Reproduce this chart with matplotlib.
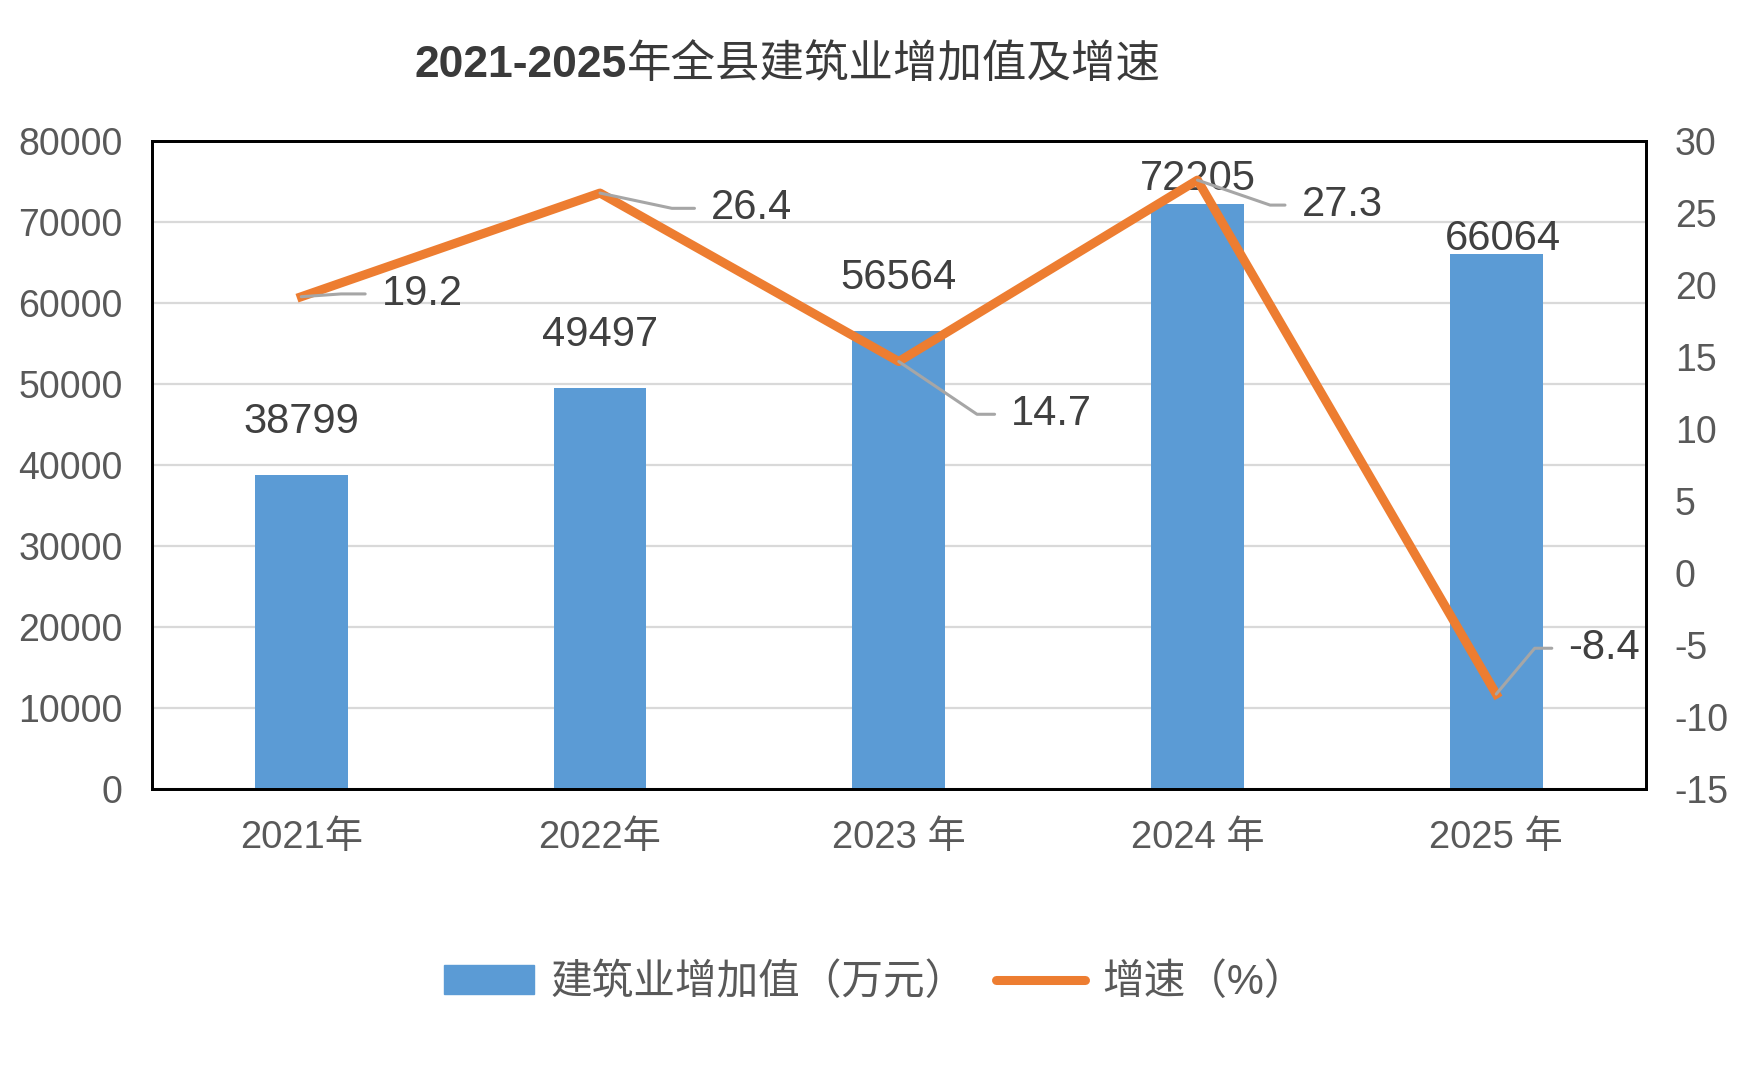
import matplotlib.pyplot as plt
import numpy as np

plt.rcParams['font.family'] = ['Liberation Sans', 'Noto Sans CJK SC', 'DejaVu Sans']
plt.rcParams['axes.unicode_minus'] = False

years = ['2021年', '2022年', '2023 年', '2024 年', '2025 年']
added_value = [38799, 49497, 56564, 72205, 66064]
growth = [19.2, 26.4, 14.7, 27.3, -8.4]

bar_color = '#5B9BD5'
line_color = '#ED7D31'
text_color = '#404040'
tick_color = '#595959'

# label placement (points), tuned by eye
bar_label_dy = [38, 38, 38, 18.5, 10.5]
bar_label_dx = [0, 0, 0, 0, 5]
line_label_off = [(58, 2), (80, -11), (81, -38), (75, -18), (52, 33)]
leader_angle = [4, -12, -34, -19, 50]

fig = plt.figure(figsize=(17.46, 10.78), dpi=100)
ax = fig.add_axes([0.087, 0.268, 0.8555, 0.601])
ax2 = ax.twinx()

x = np.arange(len(years))
ax.bar(x, added_value, width=0.31, color=bar_color, zorder=2)
ax.set_ylim(0, 80000)
ax.set_yticks(np.arange(0, 80001, 10000))
ax.set_xlim(-0.5, len(years) - 0.5)
ax.set_xticks(x)
ax.set_xticklabels(years)
ax.yaxis.grid(True, color='#D9D9D9', lw=1.6, zorder=0)
ax.set_axisbelow(True)

for i, v in enumerate(added_value):
    ax.annotate(str(v), (x[i], v), xytext=(bar_label_dx[i], bar_label_dy[i]),
                textcoords='offset points', ha='center', va='center',
                fontsize=30, color=text_color, zorder=5)

ax2.plot(x, growth, color=line_color, lw=6.5, solid_joinstyle='round', zorder=3)
ax2.set_ylim(-15, 30)
ax2.set_yticks(np.arange(-15, 31, 5))

for i, v in enumerate(growth):
    dx, dy = line_label_off[i]
    ax2.annotate(f'{v}', (x[i], v), xytext=(dx, dy), textcoords='offset points',
                 ha='left', va='center', fontsize=30, color=text_color,
                 arrowprops=dict(arrowstyle='-', color='#A6A6A6', lw=2.2,
                                 relpos=(0, 0.5), shrinkA=10, shrinkB=0,
                                 connectionstyle=f'angle,angleA=0,angleB={leader_angle[i]}'))

for a in (ax, ax2):
    for s in a.spines.values():
        s.set_color('black')
        s.set_linewidth(2)
    a.tick_params(length=0, labelsize=27, labelcolor=tick_color)
ax.tick_params(axis='y', pad=21)
ax2.tick_params(axis='y', pad=21)
ax.tick_params(axis='x', pad=22, labelsize=27.5)

# title: bold digits, regular CJK, centred a bit left of the figure
renderer = fig.canvas.get_renderer()
t1 = fig.text(0, 0.94, '2021-2025', ha='left', va='baseline',
              fontsize=32, fontweight='bold', color='#3A3A3A')
t2 = fig.text(0, 0.94, '年全县建筑业增加值及增速', ha='left', va='baseline',
              fontsize=32, color='#3A3A3A')
w1 = t1.get_window_extent(renderer).width / fig.bbox.width
w2 = t2.get_window_extent(renderer).width / fig.bbox.width
x0 = 0.451 - (w1 + w2) / 2
t1.set_x(x0)
t2.set_x(x0 + w1)
t1.set_y(0.929)
t2.set_y(0.929)

h1 = plt.Rectangle((0, 0), 1, 1, color=bar_color)
h2 = plt.Line2D([], [], color=line_color, lw=6.5, solid_capstyle='round')
fig.legend([h1, h2], ['建筑业增加值（万元）', '增速（%）'], loc='center',
           bbox_to_anchor=(0.501, 0.088), ncol=2, frameon=False, fontsize=30,
           handlelength=2.15, handletextpad=0.4, columnspacing=0.7,
           labelcolor=tick_color)

fig.savefig('out.png', dpi=100)
